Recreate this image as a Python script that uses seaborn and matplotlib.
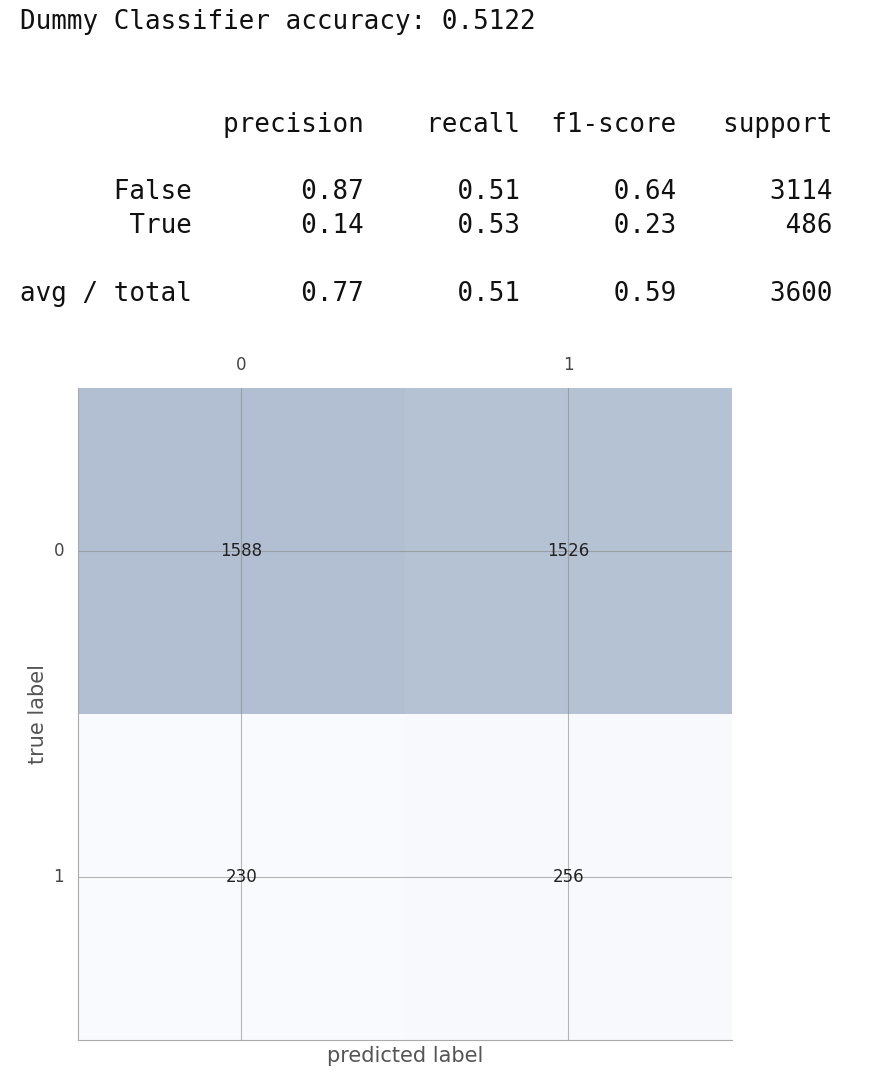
import numpy as np
import pandas as pd
import matplotlib
matplotlib.use("Agg")
import matplotlib.pyplot as plt
import seaborn as sns
from matplotlib.colors import LinearSegmentedColormap

accuracy = 0.5122
report_labels = ["False", "True"]
precision = [0.87, 0.14]
recall = [0.51, 0.53]
f1 = [0.64, 0.23]
support = [3114, 486]
avg_row = [0.77, 0.51, 0.59, 3600]
conf = np.array([[1588, 1526], [230, 256]])
classes = ["0", "1"]

sns.set_style("white")
fig = plt.figure(figsize=(8.7, 10.92), dpi=100)

mono = dict(family="DejaVu Sans Mono", fontsize=18.6, color="#111111")
fig.text(20 / 870, 1 - 22 / 1092, f"Dummy Classifier accuracy: {accuracy:.4f}", va="center", **mono)

# same layout as sklearn's classification_report
w = 11
lines = [" " * w + " " + "".join(" {:>9}".format(h) for h in ["precision", "recall", "f1-score", "support"]), ""]
for lab, p, r, f, s in zip(report_labels, precision, recall, f1, support):
    lines.append("{:>{w}s} ".format(lab, w=w) + "".join(" {:>9.2f}".format(v) for v in (p, r, f)) + " {:>9}".format(s))
lines.append("")
lines.append("{:>{w}s} ".format("avg / total", w=w) + "".join(" {:>9.2f}".format(v) for v in avg_row[:3]) + " {:>9}".format(avg_row[3]))
ys = [125, 158, 192, 226, 260, 294]
for line, y in zip(lines, ys):
    if line:
        fig.text(20 / 870, 1 - y / 1092, line, va="center", **mono)

ax = fig.add_axes([78 / 870, 1 - 1040 / 1092, 654 / 870, 652 / 1092])
cmap = LinearSegmentedColormap.from_list("c", ["#f9fafd", "#b2bfd2"])
df = pd.DataFrame(conf, index=classes, columns=classes)
sns.heatmap(df, annot=True, fmt="d", cmap=cmap, cbar=False, ax=ax,
            annot_kws={"fontsize": 12, "color": "#222222"})
for p in (0.5, 1.5):
    ax.axhline(p, color="#888888", lw=0.8, alpha=0.6)
    ax.axvline(p, color="#888888", lw=0.8, alpha=0.6)
ax.xaxis.tick_top()
ax.tick_params(axis="both", length=0, labelsize=12, labelcolor="#444444", pad=10)
ax.set_yticklabels(classes, rotation=0)
ax.set_xlabel("predicted label", fontsize=15, color="#555555")
ax.set_ylabel("true label", fontsize=15, color="#555555")
for s in ("left", "bottom"):
    ax.spines[s].set_visible(True)
    ax.spines[s].set_color("#aaaaaa")

fig.savefig("out.png", dpi=100)
